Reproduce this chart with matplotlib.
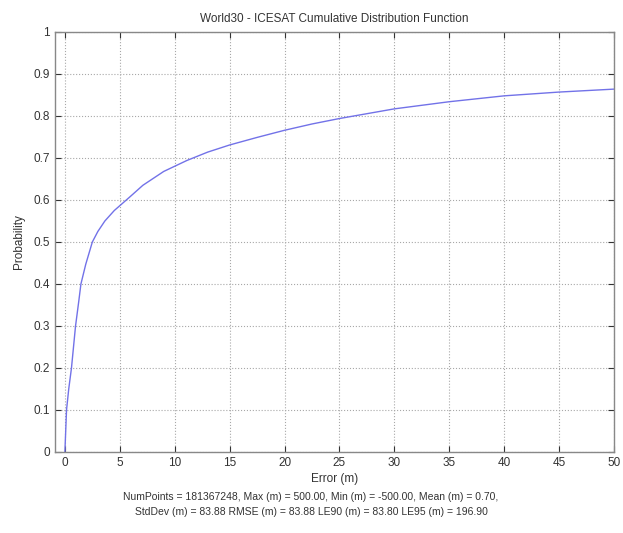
import matplotlib
matplotlib.use("Agg")
import matplotlib.pyplot as plt

plt.rcParams['font.family'] = ['Liberation Sans', 'DejaVu Sans']

error_m = [0, 0.15, 0.35, 0.6, 0.97, 1.27, 1.46, 1.9, 2.5, 3.0, 3.64, 4.5, 5.9, 7.1, 9,
           11.1, 13, 15, 17.5, 20, 22.5, 25, 30, 35, 40, 45, 50]
probability = [0, 0.1, 0.15, 0.2, 0.3, 0.36, 0.4, 0.447, 0.5, 0.525, 0.55, 0.575, 0.607,
               0.635, 0.668, 0.694, 0.714, 0.731, 0.749, 0.766, 0.781, 0.794, 0.817, 0.834,
               0.848, 0.857, 0.864]

xticks = [0, 5, 10, 15, 20, 25, 30, 35, 40, 45, 50]
yticks = [0, 0.1, 0.2, 0.3, 0.4, 0.5, 0.6, 0.7, 0.8, 0.9, 1]
ytick_labels = ['0', '0.1', '0.2', '0.3', '0.4', '0.5', '0.6', '0.7', '0.8', '0.9', '1']

title = 'World30 - ICESAT Cumulative Distribution Function'
stats_line1 = 'NumPoints = 181367248, Max (m) = 500.00, Min (m) = -500.00, Mean (m) = 0.70,'
stats_line2 = 'StdDev (m) = 83.88 RMSE (m) = 83.88 LE90 (m) = 83.80 LE95 (m) = 196.90'

fig = plt.figure(figsize=(6.23, 5.33), dpi=100)
ax = fig.add_axes([55/623, 1-452/533, (614-55)/623, (452-32)/533])

ax.plot(error_m, probability, color='#7272e8', linewidth=1.0)
ax.set_xlim(-0.9, 50)
ax.set_ylim(0, 1)
ax.set_xticks(xticks)
ax.set_xticklabels([str(t) for t in xticks])
ax.set_yticks(yticks)
ax.set_yticklabels(ytick_labels)
ax.grid(True, linestyle=':', color='#a8a8a8', linewidth=0.8)
ax.tick_params(direction='in', length=4, labelsize=8.5, colors='#333333', top=True, right=True,
               labeltop=False, labelright=False)
for s in ax.spines.values():
    s.set_color('#888888')
    s.set_linewidth(1.0)
ax.set_title(title, fontsize=8.5, color='#333333', pad=7)
ax.set_xlabel('Error (m)', fontsize=8.5, color='#333333', labelpad=3)
ax.set_ylabel('Probability', fontsize=8.5, color='#333333', labelpad=6)

fig.text(311/623, 1-497/533, stats_line1, ha='center', va='center', fontsize=7.5, color='#333333')
fig.text(311/623, 1-512/533, stats_line2, ha='center', va='center', fontsize=7.5, color='#333333')

fig.savefig('out.png', dpi=100)
